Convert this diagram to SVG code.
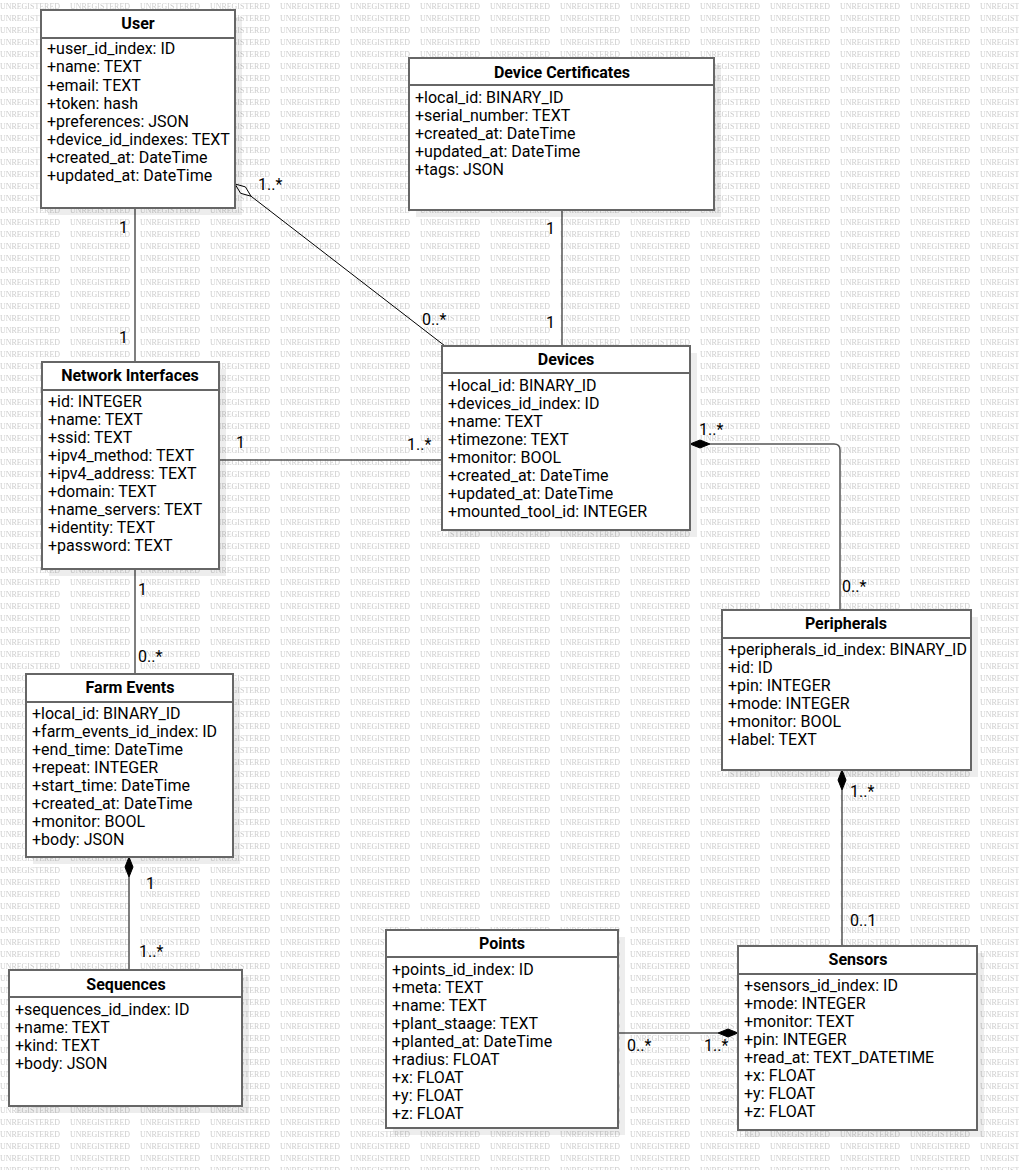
<svg xmlns="http://www.w3.org/2000/svg" width="1019" height="1170" viewBox="0 0 1019 1170">
<style>
.box{fill:#fff;stroke:#666;stroke-width:2}
.sh{fill:#000;opacity:0.07}
.sep{stroke:#666;stroke-width:2}
.t{font-family:Roboto,"Liberation Sans",sans-serif;font-size:16px;font-weight:bold;fill:#000;text-anchor:middle}
.a{font-family:Roboto,"Liberation Sans",sans-serif;font-size:16px;fill:#000}
.l{font-family:Roboto,"Liberation Sans",sans-serif;font-size:16px;fill:#000}
.c{fill:none;stroke:#555;stroke-width:1.5}
.d{fill:#000;stroke:#000;stroke-width:1}
.wm{font-family:"Liberation Serif",serif;font-size:8.5px;fill:#cdcdcd}
</style>
<defs>
<pattern id="wmp" width="70" height="12" patternUnits="userSpaceOnUse">
<text class="wm" x="0" y="9" textLength="60" lengthAdjust="spacingAndGlyphs">UNREGISTERED</text>
</pattern>
</defs>
<rect width="1019" height="1170" fill="#fff"/>
<rect width="1019" height="1170" fill="url(#wmp)"/>

<g id="connectors">
<line class="c" x1="135" y1="208" x2="135" y2="362"/>
<text class="l" x="119" y="233">1</text>
<text class="l" x="119" y="343">1</text>

<polyline points="251,196.2 445,346" fill="none" stroke="#000" stroke-width="1"/>
<polygon points="235,184 245.4,186.9 251,196.2 240.6,193.3" fill="#fff" stroke="#000" stroke-width="1"/>
<text class="l" x="258" y="190">1..*</text>
<text class="l" x="422" y="325">0..*</text>

<line class="c" x1="562" y1="210" x2="562" y2="346"/>
<text class="l" x="546" y="234">1</text>
<text class="l" x="546" y="328">1</text>

<line class="c" x1="218" y1="460" x2="442" y2="460"/>
<text class="l" x="236" y="448">1</text>
<text class="l" x="407" y="450">1..*</text>

<path class="c" d="M710,444 H834 Q840,444 840,450 V610"/>
<polygon class="d" points="690,444 700,440 710,444 700,448"/>
<text class="l" x="699" y="435">1..*</text>
<text class="l" x="842" y="592">0..*</text>

<line class="c" x1="135" y1="569" x2="135" y2="674"/>
<text class="l" x="138" y="595">1</text>
<text class="l" x="138" y="662">0..*</text>

<line class="c" x1="129" y1="877" x2="129" y2="970"/>
<polygon class="d" points="129,857 133,867 129,877 125,867"/>
<text class="l" x="146" y="889">1</text>
<text class="l" x="139" y="957">1..*</text>

<line class="c" x1="842" y1="790" x2="842" y2="946"/>
<polygon class="d" points="842,770 846,780 842,790 838,780"/>
<text class="l" x="850" y="797">1..*</text>
<text class="l" x="850" y="926">0..1</text>

<line class="c" x1="618" y1="1033" x2="718" y2="1033"/>
<polygon class="d" points="738,1033 728,1037 718,1033 728,1029"/>
<text class="l" x="627" y="1051">0..*</text>
<text class="l" x="704" y="1051">1..*</text>
</g>

<g id="user">
<rect class="sh" x="48" y="17" width="194" height="198"/>
<rect class="box" x="41" y="10" width="194" height="198"/>
<line class="sep" x1="41" y1="38" x2="235" y2="38"/>
<text class="t" x="138" y="29">User</text>
<text class="a" x="47" y="54">+user_id_index: ID</text>
<text class="a" x="47" y="72">+name: TEXT</text>
<text class="a" x="47" y="91">+email: TEXT</text>
<text class="a" x="47" y="109">+token: hash</text>
<text class="a" x="47" y="127">+preferences: JSON</text>
<text class="a" x="47" y="145">+device_id_indexes: TEXT</text>
<text class="a" x="47" y="163">+created_at: DateTime</text>
<text class="a" x="47" y="181">+updated_at: DateTime</text>
</g>

<g id="device-certificates">
<rect class="sh" x="416" y="65" width="305" height="152"/>
<rect class="box" x="409" y="58" width="305" height="152"/>
<line class="sep" x1="409" y1="85" x2="714" y2="85"/>
<text class="t" x="562" y="78">Device Certificates</text>
<text class="a" x="415" y="103">+local_id: BINARY_ID</text>
<text class="a" x="415" y="121">+serial_number: TEXT</text>
<text class="a" x="415" y="139">+created_at: DateTime</text>
<text class="a" x="415" y="157">+updated_at: DateTime</text>
<text class="a" x="415" y="175">+tags: JSON</text>
</g>

<g id="network-interfaces">
<rect class="sh" x="49" y="369" width="177" height="207"/>
<rect class="box" x="42" y="362" width="177" height="207"/>
<line class="sep" x1="42" y1="390" x2="219" y2="390"/>
<text class="t" x="130" y="381">Network Interfaces</text>
<text class="a" x="48" y="407">+id: INTEGER</text>
<text class="a" x="48" y="425">+name: TEXT</text>
<text class="a" x="48" y="443">+ssid: TEXT</text>
<text class="a" x="48" y="461">+ipv4_method: TEXT</text>
<text class="a" x="48" y="479">+ipv4_address: TEXT</text>
<text class="a" x="48" y="497">+domain: TEXT</text>
<text class="a" x="48" y="515">+name_servers: TEXT</text>
<text class="a" x="48" y="533">+identity: TEXT</text>
<text class="a" x="48" y="551">+password: TEXT</text>
</g>

<g id="devices">
<rect class="sh" x="449" y="353" width="248" height="184"/>
<rect class="box" x="442" y="346" width="248" height="184"/>
<line class="sep" x1="442" y1="373" x2="690" y2="373"/>
<text class="t" x="566" y="365">Devices</text>
<text class="a" x="448" y="391">+local_id: BINARY_ID</text>
<text class="a" x="448" y="409">+devices_id_index: ID</text>
<text class="a" x="448" y="427">+name: TEXT</text>
<text class="a" x="448" y="445">+timezone: TEXT</text>
<text class="a" x="448" y="463">+monitor: BOOL</text>
<text class="a" x="448" y="481">+created_at: DateTime</text>
<text class="a" x="448" y="499">+updated_at: DateTime</text>
<text class="a" x="448" y="517">+mounted_tool_id: INTEGER</text>
</g>

<g id="farm-events">
<rect class="sh" x="33" y="681" width="207" height="183"/>
<rect class="box" x="26" y="674" width="207" height="183"/>
<line class="sep" x1="26" y1="702" x2="233" y2="702"/>
<text class="t" x="130" y="693">Farm Events</text>
<text class="a" x="32" y="719">+local_id: BINARY_ID</text>
<text class="a" x="32" y="737">+farm_events_id_index: ID</text>
<text class="a" x="32" y="755">+end_time: DateTime</text>
<text class="a" x="32" y="773">+repeat: INTEGER</text>
<text class="a" x="32" y="791">+start_time: DateTime</text>
<text class="a" x="32" y="809">+created_at: DateTime</text>
<text class="a" x="32" y="827">+monitor: BOOL</text>
<text class="a" x="32" y="845">+body: JSON</text>
</g>

<g id="peripherals">
<rect class="sh" x="729" y="617" width="249" height="160"/>
<rect class="box" x="722" y="610" width="249" height="160"/>
<line class="sep" x1="722" y1="638" x2="971" y2="638"/>
<text class="t" x="846" y="629">Peripherals</text>
<text class="a" x="728" y="655">+peripherals_id_index: BINARY_ID</text>
<text class="a" x="728" y="673">+id: ID</text>
<text class="a" x="728" y="691">+pin: INTEGER</text>
<text class="a" x="728" y="709">+mode: INTEGER</text>
<text class="a" x="728" y="727">+monitor: BOOL</text>
<text class="a" x="728" y="745">+label: TEXT</text>
</g>

<g id="sequences">
<rect class="sh" x="16" y="977" width="233" height="136"/>
<rect class="box" x="9" y="970" width="233" height="136"/>
<line class="sep" x1="9" y1="997" x2="242" y2="997"/>
<text class="t" x="126" y="990">Sequences</text>
<text class="a" x="15" y="1015">+sequences_id_index: ID</text>
<text class="a" x="15" y="1033">+name: TEXT</text>
<text class="a" x="15" y="1051">+kind: TEXT</text>
<text class="a" x="15" y="1069">+body: JSON</text>
</g>

<g id="points">
<rect class="sh" x="393" y="937" width="232" height="198"/>
<rect class="box" x="386" y="930" width="232" height="198"/>
<line class="sep" x1="386" y1="957" x2="618" y2="957"/>
<text class="t" x="502" y="949">Points</text>
<text class="a" x="392" y="975">+points_id_index: ID</text>
<text class="a" x="392" y="993">+meta: TEXT</text>
<text class="a" x="392" y="1011">+name: TEXT</text>
<text class="a" x="392" y="1029">+plant_staage: TEXT</text>
<text class="a" x="392" y="1047">+planted_at: DateTime</text>
<text class="a" x="392" y="1065">+radius: FLOAT</text>
<text class="a" x="392" y="1083">+x: FLOAT</text>
<text class="a" x="392" y="1101">+y: FLOAT</text>
<text class="a" x="392" y="1119">+z: FLOAT</text>
</g>

<g id="sensors">
<rect class="sh" x="745" y="953" width="239" height="184"/>
<rect class="box" x="738" y="946" width="239" height="184"/>
<line class="sep" x1="738" y1="974" x2="977" y2="974"/>
<text class="t" x="858" y="965">Sensors</text>
<text class="a" x="744" y="991">+sensors_id_index: ID</text>
<text class="a" x="744" y="1009">+mode: INTEGER</text>
<text class="a" x="744" y="1027">+monitor: TEXT</text>
<text class="a" x="744" y="1045">+pin: INTEGER</text>
<text class="a" x="744" y="1063">+read_at: TEXT_DATETIME</text>
<text class="a" x="744" y="1081">+x: FLOAT</text>
<text class="a" x="744" y="1099">+y: FLOAT</text>
<text class="a" x="744" y="1117">+z: FLOAT</text>
</g>
</svg>
